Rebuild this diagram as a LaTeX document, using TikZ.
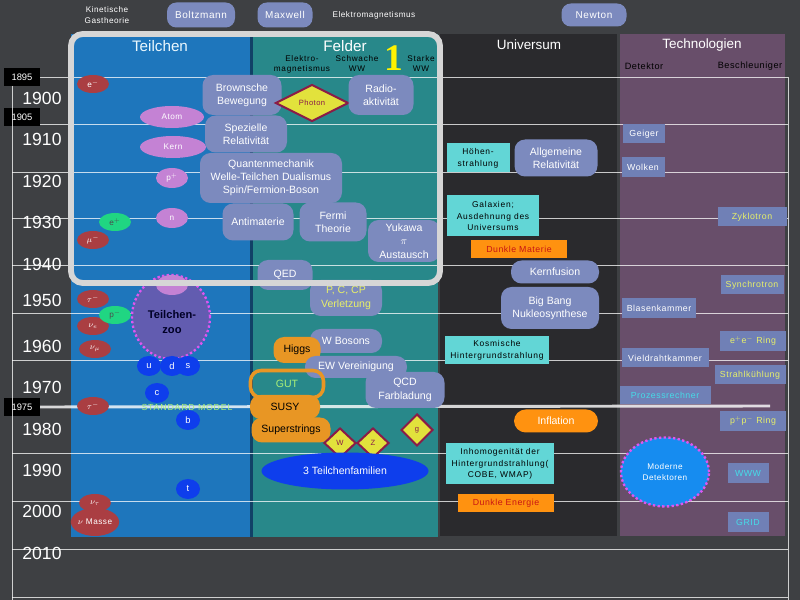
\documentclass[tikz,border=0pt]{standalone}
\usepackage{fontspec}
\setmainfont{Liberation Sans}
\newfontfamily\serifbold{Liberation Serif}
\newfontfamily\widefont[LetterSpace=6]{Liberation Sans}
\newfontfamily\widerfont[LetterSpace=9]{Liberation Sans}
\usetikzlibrary{shapes.geometric,positioning}

\definecolor{board}{RGB}{62,64,67}
\definecolor{teilblue}{RGB}{30,118,188}
\definecolor{feldteal}{RGB}{40,136,138}
\definecolor{univdark}{RGB}{42,42,45}
\definecolor{techpurple}{RGB}{104,78,106}
\definecolor{ideagray}{RGB}{124,138,190}
\definecolor{techgray}{RGB}{112,128,182}
\definecolor{leptonred}{RGB}{170,62,66}
\definecolor{hadronviolet}{RGB}{196,130,212}
\definecolor{antigreen}{RGB}{32,214,130}
\definecolor{quarkblue}{RGB}{14,62,236}
\definecolor{zoofill}{RGB}{98,92,176}
\definecolor{zooborder}{RGB}{222,86,240}
\definecolor{detblue}{RGB}{22,140,240}
\definecolor{bosonyellow}{RGB}{226,226,60}
\definecolor{bosonborder}{RGB}{138,28,72}
\definecolor{obscyan}{RGB}{98,214,214}
\definecolor{specorange}{RGB}{232,150,36}
\definecolor{darkorange}{RGB}{255,146,16}
\definecolor{framegray}{RGB}{214,214,214}
\definecolor{hlyellow}{RGB}{232,240,104}
\definecolor{hlcyan}{RGB}{70,220,232}
\definecolor{hlgreen}{RGB}{170,240,120}
\definecolor{dmred}{RGB}{200,20,20}

\begin{document}
\begin{tikzpicture}[x=0.03cm, y=-0.03cm, font=\fontsize{9}{11.3}\selectfont]
    \tikzset{dim/.style 2 args = {minimum width=#1*0.03cm, minimum height=#2*0.03cm}}
    % Styles of the chart
    \tikzstyle{year}     = [text=white, font=\fontsize{15}{15}\selectfont]
    \tikzstyle{yearbox}  = [rectangle, fill=black, text=white, dim={36}{18}, inner sep=0pt, font=\fontsize{8}{8}\selectfont]
    \tikzstyle{colhead}  = [text=white, font=\fontsize{11.5}{12}\selectfont]
    \tikzstyle{subhead}  = [text=black, align=center, font=\widerfont\fontsize{7}{8.5}\selectfont]
    \tikzstyle{note}     = [text=white, align=center, font=\widefont\fontsize{7}{9}\selectfont]
    \tikzstyle{tline}    = [white, opacity=.75, line width=0.8pt]
    \tikzstyle{topic}    = [rectangle, rounded corners=8pt, fill=ideagray, text=white, inner sep=0pt, font=\widefont\fontsize{8.5}{10}\selectfont]
    \tikzstyle{idea}     = [rectangle, rounded corners=9pt, fill=ideagray, text=white, align=center, inner sep=0pt]
    \tikzstyle{spec}     = [rectangle, rounded corners=9pt, fill=specorange, text=black, inner sep=0pt]
    \tikzstyle{obs}      = [rectangle, fill=obscyan, text=black, align=center, inner sep=0pt, font=\widerfont\fontsize{7.2}{10}\selectfont]
    \tikzstyle{darkbox}  = [rectangle, fill=darkorange, text=dmred, inner sep=0pt, font=\widefont\fontsize{7.5}{8}\selectfont]
    \tikzstyle{tech}     = [rectangle, fill=techgray, text=white, inner sep=0pt, font=\widefont\fontsize{7.5}{9}\selectfont]
    \tikzstyle{particle} = [ellipse, inner sep=0pt, text=white, font=\widefont\fontsize{7}{7}\selectfont]
    \tikzstyle{lepton}   = [particle, fill=leptonred, dim={32}{18}]
    \tikzstyle{hadron}   = [particle, fill=hadronviolet, dim={32}{20}]
    \tikzstyle{antip}    = [particle, fill=antigreen, dim={32}{18}, text=black!70]
    \tikzstyle{quark}    = [particle, fill=quarkblue, dim={24}{20}, font=\fontsize{8}{8}\selectfont]
    \tikzstyle{boson}    = [diamond, fill=bosonyellow, draw=bosonborder, line width=1.7pt, inner sep=0pt, text=bosonborder, font=\widefont\fontsize{6.5}{7}\selectfont]
    \tikzstyle{zooshape} = [ellipse, draw=zooborder, dotted, line width=2pt, align=center]

    \useasboundingbox (0,0) rectangle (800,600);
    \fill[board] (0,0) rectangle (800,600);

    % columns
    \fill[teilblue] (71,34) rectangle (250,537);
    \fill[teilblue!55!black] (250,34) rectangle (253,537);
    \fill[feldteal] (253,34) rectangle (438,537);
    \fill[univdark] (440,34) rectangle (617,536);
    \fill[techpurple] (620,34) rectangle (785,536);

    % time axis
    \foreach \yr/\yy in {1895/77,1905/117,1975/407}
        \node[yearbox] (b\yr) at (22,\yy) {\yr};
    \draw[tline] (b1895.east) -- (788,77);
    \draw[tline] (b1905.east |- 0,124) -- (788,124);
    \foreach \yy in {172,218,265,313,360,453,501,549,597}
        \draw[tline] (12,\yy) -- (788,\yy);
    \draw[white, opacity=.8, line width=2.5pt] (b1975.east) -- (770,406);
    \draw[tline] (12,86) -- (12,600);
    \draw[tline] (788,77) -- (788,600);
    \foreach \yr/\yy in {1900/98,1910/139,1920/181,1930/222,1940/264,1950/300,1960/346,1970/387,1980/429,1990/470,2000/511,2010/553}
        \node[year] (y\yr) at (42,\yy) {\yr};

    % top row
    \node[note] (kgt) at (107,15) {Kinetische\\Gastheorie};
    \node[topic, dim={68}{25}] (boltz) at (201,15) {Boltzmann};
    \node[topic, dim={55}{25}] (maxwell) at (285,15) {Maxwell};
    \node[note] (elmag) at (374,15) {Elektromagnetismus};
    \node[topic, dim={65}{23}] (newton) at (594,15) {Newton};

    % headers
    \node[colhead, text=cyan!8, font=\fontsize{13}{13}\selectfont] (hteil) at (160,46) {Teilchen};
    \node[colhead, font=\fontsize{13}{13}\selectfont] (hfeld) at (345,46) {Felder};
    \node[colhead] (huniv) at (529,45) {Universum};
    \node[colhead] (htech) at (702,45) {Technologien};
    \node[subhead] (sem) at (302,64) {Elektro-\\magnetismus};
    \node[subhead] (sweak) at (357,64) {Schwache\\WW};
    \node[subhead] (sstrong) at (421,64) {Starke\\WW};
    \node[text=yellow, inner sep=0pt, font=\serifbold\bfseries\fontsize{32}{32}\selectfont] (one) at (394,58) {1};
    \node[subhead, font=\widefont\fontsize{7.8}{9}\selectfont] (hdet) at (644,66) {Detektor};
    \node[subhead, font=\widefont\fontsize{7.8}{9}\selectfont] (hbeschl) at (750,66) {Beschleuniger};

    % Teilchen
    \node[lepton] (eminus) at (93,84) {e$^-$};
    \node[hadron, dim={64}{22}] (atom) at (172,117) {Atom};
    \node[hadron, dim={66}{22}] (kern) at (173,147) {Kern};
    \node[hadron] (proton) at (172,178) {p$^+$};
    \node[hadron] (neutron) at (172,218) {n};
    \node[lepton] (muon) at (93,240) {$\mu^-$};
    \node[antip] (positron) at (115,222) {e$^+$};
    \node[zooshape, fill=zoofill, dim={78}{84}] (zoo) at (171,317) {};
    \node[hadron] (pion) at (172,285) {$\pi$};
    \node[text=black!85!blue, align=center, font=\bfseries\fontsize{9.5}{12}\selectfont] (zootext) at (172,322) {Teilchen-\\zoo};
    \node[lepton] (tau) at (93,299) {$\tau^-$};
    \node[lepton] (nue) at (93,326) {$\nu_e$};
    \node[lepton] (numu) at (95,349) {$\nu_\mu$};
    \node[antip] (antiproton) at (115,315) {p$^-$};
    \node[quark] (qu) at (149,366) {u};
    \node[quark] (qd) at (172,366) {d};
    \node[quark] (qs) at (188,366) {s};
    \node[quark] (qc) at (157,393) {c};
    \node[lepton] (tau2) at (93,406) {$\tau^-$};
    \node[text=hlgreen, font=\widerfont\fontsize{7.5}{8}\selectfont] (sm) at (187,407) {STANDARD MODEL};
    \node[quark] (qb) at (188,420) {b};
    \node[quark] (qt) at (188,489) {t};
    \node[lepton] (nutau) at (95,503) {$\nu_\tau$};
    \node[lepton, dim={44}{28}] (numass) at (95,522) {$\nu$ Masse};

    % Felder
    \node[idea, dim={79}{40}] (brown) at (242,95) {Brownsche\\Bewegung};
    \node[boson, dim={73}{37}] (photon) at (312,103) {Photon};
    \node[idea, dim={65}{40}] (radio) at (381,95) {Radio-\\aktivität};
    \node[idea, dim={82}{37}] (srt) at (246,134) {Spezielle\\Relativität};
    \node[idea, dim={142}{50}] (qm) at (271,178) {Quantenmechanik\\Welle-Teilchen Dualismus\\Spin/Fermion-Boson};
    \node[idea, dim={71}{37}] (antimat) at (258,222) {Antimaterie};
    \node[idea, dim={67}{39}] (fermi) at (333,222) {Fermi\\Theorie};
    \node[idea, dim={72}{42}] (yukawa) at (404,241) {Yukawa\\$\pi$\\Austausch};
    \node[idea, dim={55}{30}] (qed) at (285,275) {QED};
    \node[idea, dim={72}{36}, text=hlyellow] (pcp) at (346,298) {P, C, CP\\Verletzung};
    \node[idea, dim={72}{24}] (wbos) at (346,341) {W Bosons};
    \node[spec, dim={47}{26}] (higgs) at (297,350) {Higgs};
    \node[idea, dim={102}{22}] (ew) at (356,367) {EW Vereinigung};
    \node[spec, fill=none, draw=specorange, line width=3pt, text=hlgreen, dim={73}{27}] (gut) at (287,384) {GUT};
    \node[idea, dim={79}{36}] (qcd) at (405,390) {QCD\\Farbladung};
    \node[spec, dim={70}{24}] (susy) at (285,407) {SUSY};
    \node[spec, dim={79}{25}] (strings) at (291,430) {Superstrings};
    \node[boson, dim={32}{30}] (wdia) at (340,443) {W};
    \node[boson, dim={32}{30}] (zdia) at (373,443) {Z};
    \node[boson, dim={32}{32}] (gdia) at (417,430) {g};
    \node[ellipse, fill=quarkblue, text=white, dim={167}{37}] (families) at (345,471) {3 Teilchenfamilien};

    % Universum
    \node[obs, dim={63}{29}] (hoehen) at (478,158) {Höhen-\\strahlung};
    \node[idea, dim={83}{37}] (art) at (556,158) {Allgemeine\\Relativität};
    \node[obs, dim={92}{41}] (galax) at (493,216) {Galaxien;\\Ausdehnung des\\Universums};
    \node[darkbox, dim={96}{18}] (dm) at (519,249) {Dunkle Materie};
    \node[idea, dim={88}{23}] (fusion) at (555,272) {Kernfusion};
    \node[idea, dim={98}{42}] (bigbang) at (550,308) {Big Bang\\Nukleosynthese};
    \node[obs, dim={104}{28}] (cmb) at (497,350) {Kosmische\\Hintergrundstrahlung};
    \node[spec, fill=darkorange, text=white, rounded corners=10pt, dim={84}{23}] (inflation) at (556,421) {Inflation};
    \node[obs, dim={108}{41}] (inhom) at (500,464) {Inhomogenität der\\Hintergrundstrahlung(\\COBE, WMAP)};
    \node[darkbox, dim={96}{18}] (de) at (506,503) {Dunkle Energie};

    % Technologien
    \node[tech, dim={42}{19}] (geiger) at (644,134) {Geiger};
    \node[tech, dim={43}{20}] (wolken) at (643,167) {Wolken};
    \node[tech, dim={69}{19}, text=hlyellow] (zyklo) at (752,217) {Zyklotron};
    \node[tech, dim={63}{19}, text=hlyellow] (synchro) at (752,285) {Synchrotron};
    \node[tech, dim={74}{20}] (blasen) at (659,308) {Blasenkammer};
    \node[tech, dim={66}{20}, text=hlyellow] (eering) at (753,341) {e$^+$e$^-$ Ring};
    \node[tech, dim={87}{19}] (vield) at (665,358) {Vieldrahtkammer};
    \node[tech, dim={71}{19}, text=hlyellow] (kuehl) at (750,375) {Strahlkühlung};
    \node[tech, dim={91}{18}, text=hlcyan] (prozess) at (665,395) {Prozessrechner};
    \node[tech, dim={66}{20}, text=hlyellow] (ppring) at (753,421) {p$^+$p$^-$ Ring};
    \node[zooshape, fill=detblue, text=white, dim={88}{69}, font=\widefont\fontsize{7}{9.5}\selectfont] (moddet) at (665,472) {Moderne\\Detektoren};
    \node[tech, dim={41}{20}, text=hlcyan] (www) at (748,473) {WWW};
    \node[tech, dim={41}{20}, text=hlcyan] (grid) at (748,522) {GRID};

    % frame round the first half of the century
    \draw[framegray, line width=5pt, rounded corners=10pt] (71,34) rectangle (440,283);
\end{tikzpicture}
\end{document}
